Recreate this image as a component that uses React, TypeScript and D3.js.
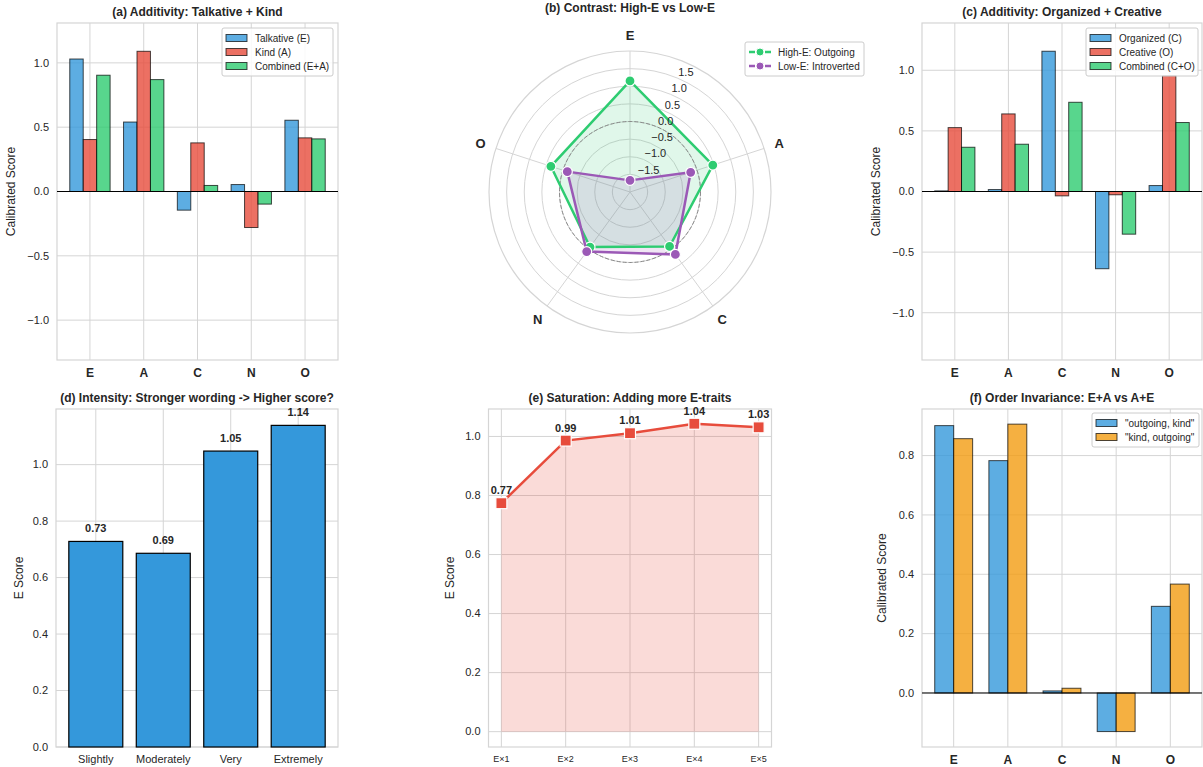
import React, { useEffect, useRef } from 'react';
import * as d3 from 'd3';

const traits = ['E', 'A', 'C', 'N', 'O'];

// (a) additivity E + A
const talkative = [1.03, 0.54, -0.145, 0.054, 0.554];
const kind = [0.404, 1.09, 0.378, -0.28, 0.417];
const combinedEA = [0.904, 0.87, 0.047, -0.098, 0.409];

// (b) contrast radar
const highE = [1.15, 0.47, -0.09, -0.07, 0.36];
const lowE = [-1.67, -0.19, 0.19, 0.09, -0.13];
const radarTicks = [-1.5, -1.0, -0.5, 0.0, 0.5, 1.0, 1.5];

// (c) additivity C + O
const organized = [0.005, 0.016, 1.157, -0.637, 0.049];
const creative = [0.527, 0.64, -0.036, -0.027, 0.956];
const combinedCO = [0.365, 0.39, 0.736, -0.352, 0.569];

// (d) intensity
const intensityLabels = ['Slightly', 'Moderately', 'Very', 'Extremely'];
const intensity = [0.728, 0.686, 1.048, 1.139];

// (e) saturation
const saturationLabels = ['E×1', 'E×2', 'E×3', 'E×4', 'E×5'];
const saturation = [0.774, 0.986, 1.011, 1.043, 1.031];

// (f) order invariance
const outgoingKind = [0.901, 0.783, 0.007, -0.13, 0.292];
const kindOutgoing = [0.857, 0.906, 0.016, -0.13, 0.367];

const BLUE = '#3498db';
const RED = '#e74c3c';
const GREEN = '#2ecc71';
const ORANGE = '#f39c12';
const PURPLE = '#9b59b6';
const GRID = '#d5d5d5';
const TEXT = '#262626';
const FONT = '"Liberation Sans", Arial, sans-serif';

type Sel = d3.Selection<SVGGElement, unknown, null, undefined>;
type Box = { x0: number; x1: number; y0: number; y1: number };

const fmt = (v: number) => d3.format('.1f')(v).replace('-', '−');

const frame = (
  g: Sel,
  box: Box,
  x: d3.ScaleLinear<number, number>,
  y: d3.ScaleLinear<number, number>,
  xTicks: number[],
  yTicks: number[],
  title: string,
  ylabel: string,
  ylabelX: number,
) => {
  g.append('g')
    .selectAll('line')
    .data(xTicks)
    .join('line')
    .attr('x1', (d) => x(d))
    .attr('x2', (d) => x(d))
    .attr('y1', box.y0)
    .attr('y2', box.y1)
    .attr('stroke', GRID);
  g.append('g')
    .selectAll('line')
    .data(yTicks)
    .join('line')
    .attr('x1', box.x0)
    .attr('x2', box.x1)
    .attr('y1', (d) => y(d))
    .attr('y2', (d) => y(d))
    .attr('stroke', GRID);
  g.append('rect')
    .attr('x', box.x0)
    .attr('y', box.y0)
    .attr('width', box.x1 - box.x0)
    .attr('height', box.y1 - box.y0)
    .attr('fill', 'none')
    .attr('stroke', GRID)
    .attr('stroke-width', 1.2);
  g.append('g')
    .selectAll('text')
    .data(yTicks)
    .join('text')
    .attr('x', box.x0 - 8)
    .attr('y', (d) => y(d))
    .attr('dy', '0.35em')
    .attr('text-anchor', 'end')
    .attr('font-size', 11)
    .attr('fill', TEXT)
    .text((d) => fmt(d));
  g.append('text')
    .attr('x', (box.x0 + box.x1) / 2)
    .attr('y', box.y0 - 7)
    .attr('text-anchor', 'middle')
    .attr('font-size', 12)
    .attr('font-weight', 'bold')
    .attr('fill', TEXT)
    .text(title);
  g.append('text')
    .attr('transform', `translate(${ylabelX},${(box.y0 + box.y1) / 2}) rotate(-90)`)
    .attr('text-anchor', 'middle')
    .attr('font-size', 12)
    .attr('fill', TEXT)
    .text(ylabel);
};

const legendBox = (
  g: Sel,
  bx: number,
  by: number,
  w: number,
  items: Array<{ label: string; color: string }>,
  kindOf: 'patch' | 'line',
) => {
  const rowH = 14;
  const lg = g.append('g').attr('transform', `translate(${bx},${by})`);
  lg.append('rect')
    .attr('width', w)
    .attr('height', items.length * rowH + 6)
    .attr('rx', 2)
    .attr('fill', 'white')
    .attr('fill-opacity', 0.85)
    .attr('stroke', '#cccccc');
  items.forEach((it, i) => {
    const cy = 10 + i * rowH;
    if (kindOf === 'patch') {
      lg.append('rect')
        .attr('x', 4)
        .attr('y', cy - 3.5)
        .attr('width', 21)
        .attr('height', 7)
        .attr('fill', it.color)
        .attr('fill-opacity', 0.8)
        .attr('stroke', '#000')
        .attr('stroke-opacity', 0.7);
    } else {
      lg.append('line')
        .attr('x1', 4)
        .attr('x2', 26)
        .attr('y1', cy)
        .attr('y2', cy)
        .attr('stroke', it.color)
        .attr('stroke-width', 2.5)
        .attr('stroke-dasharray', '6,2');
      lg.append('circle')
        .attr('cx', 15)
        .attr('cy', cy)
        .attr('r', 4)
        .attr('fill', it.color)
        .attr('stroke', 'white');
    }
    lg.append('text')
      .attr('x', 33)
      .attr('y', cy)
      .attr('dy', '0.35em')
      .attr('font-size', 10)
      .attr('fill', TEXT)
      .text(it.label);
  });
};

const groupedBars = (
  g: Sel,
  box: Box,
  xDomain: [number, number],
  yDomain: [number, number],
  yTicks: number[],
  series: Array<{ values: number[]; color: string; label: string }>,
  width: number,
  title: string,
  legend: { x: number; y: number; w: number },
  ylabelOffset: number,
) => {
  const x = d3.scaleLinear().domain(xDomain).range([box.x0, box.x1]);
  const y = d3.scaleLinear().domain(yDomain).range([box.y1, box.y0]);
  const idx = d3.range(traits.length);
  frame(g, box, x, y, idx, yTicks, title, 'Calibrated Score', box.x0 - ylabelOffset);
  const n = series.length;
  series.forEach((s, k) => {
    const off = (k - (n - 1) / 2) * width;
    g.append('g')
      .selectAll('rect')
      .data(s.values)
      .join('rect')
      .attr('x', (d, i) => x(i + off - width / 2))
      .attr('width', x(width) - x(0))
      .attr('y', (d) => y(Math.max(0, d)))
      .attr('height', (d) => Math.abs(y(d) - y(0)))
      .attr('fill', s.color)
      .attr('fill-opacity', 0.8)
      .attr('stroke', '#000')
      .attr('stroke-opacity', 0.7)
      .attr('stroke-width', 1);
  });
  g.append('line')
    .attr('x1', box.x0)
    .attr('x2', box.x1)
    .attr('y1', y(0))
    .attr('y2', y(0))
    .attr('stroke', '#000')
    .attr('stroke-width', 1);
  g.append('g')
    .selectAll('text')
    .data(traits)
    .join('text')
    .attr('x', (d, i) => x(i))
    .attr('y', box.y1 + 17)
    .attr('text-anchor', 'middle')
    .attr('font-size', 12)
    .attr('font-weight', 'bold')
    .attr('fill', TEXT)
    .text((d) => d);
  legendBox(
    g,
    legend.x,
    legend.y,
    legend.w,
    series.map((s) => ({ label: s.label, color: s.color })),
    'patch',
  );
};

const drawRadar = (g: Sel) => {
  const cx = 630;
  const cy = 192;
  const R = 141;
  const r = d3.scaleLinear().domain([-2, 2]).range([0, R]);
  const ang = (i: number) => (i * 2 * Math.PI) / traits.length;
  const pt = (i: number, v: number): [number, number] => [
    cx + r(v) * Math.sin(ang(i)),
    cy - r(v) * Math.cos(ang(i)),
  ];

  g.append('g')
    .selectAll('circle')
    .data([-1.5, -1, -0.5, 0, 0.5, 1, 1.5])
    .join('circle')
    .attr('cx', cx)
    .attr('cy', cy)
    .attr('r', (d) => r(d))
    .attr('fill', 'none')
    .attr('stroke', GRID);
  g.append('g')
    .selectAll('line')
    .data(traits)
    .join('line')
    .attr('x1', cx)
    .attr('y1', cy)
    .attr('x2', (d, i) => pt(i, 2)[0])
    .attr('y2', (d, i) => pt(i, 2)[1])
    .attr('stroke', GRID);
  g.append('circle')
    .attr('cx', cx)
    .attr('cy', cy)
    .attr('r', R)
    .attr('fill', 'none')
    .attr('stroke', GRID)
    .attr('stroke-width', 1.2);

  const series = [
    { values: highE, color: GREEN, label: 'High-E: Outgoing' },
    { values: lowE, color: PURPLE, label: 'Low-E: Introverted' },
  ];
  series.forEach((s) => {
    const pts = s.values.map((v, i) => pt(i, v));
    g.append('path')
      .attr('d', d3.line()(pts.concat([pts[0]])))
      .attr('fill', s.color)
      .attr('fill-opacity', 0.15)
      .attr('stroke', 'none');
  });

  // zero reference ring
  g.append('circle')
    .attr('cx', cx)
    .attr('cy', cy)
    .attr('r', r(0))
    .attr('fill', 'none')
    .attr('stroke', '#8a8a8a')
    .attr('stroke-width', 1)
    .attr('stroke-dasharray', '4,2');

  series.forEach((s) => {
    const pts = s.values.map((v, i) => pt(i, v));
    g.append('path')
      .attr('d', d3.line()(pts.concat([pts[0]])))
      .attr('fill', 'none')
      .attr('stroke', s.color)
      .attr('stroke-width', 2.5)
      .attr('stroke-linejoin', 'round');
    g.append('g')
      .selectAll('circle')
      .data(pts)
      .join('circle')
      .attr('cx', (d) => d[0])
      .attr('cy', (d) => d[1])
      .attr('r', 5)
      .attr('fill', s.color)
      .attr('stroke', 'white')
      .attr('stroke-width', 1.2);
  });

  const la = (22.5 * Math.PI) / 180;
  g.append('g')
    .selectAll('text')
    .data(radarTicks)
    .join('text')
    .attr('x', (d) => cx + r(d) * Math.sin(la) + 1)
    .attr('y', (d) => cy - r(d) * Math.cos(la) - 2)
    .attr('font-size', 11)
    .attr('fill', TEXT)
    .text((d) => fmt(d));

  g.append('g')
    .selectAll('text')
    .data(traits)
    .join('text')
    .attr('x', (d, i) => cx + 157 * Math.sin(ang(i)))
    .attr('y', (d, i) => cy - 157 * Math.cos(ang(i)))
    .attr('dy', '0.35em')
    .attr('text-anchor', 'middle')
    .attr('font-size', 13)
    .attr('font-weight', 'bold')
    .attr('fill', TEXT)
    .text((d) => d);

  g.append('text')
    .attr('x', cx)
    .attr('y', 12)
    .attr('text-anchor', 'middle')
    .attr('font-size', 12)
    .attr('font-weight', 'bold')
    .attr('fill', TEXT)
    .text('(b) Contrast: High-E vs Low-E');

  legendBox(g, 745, 42, 119, series, 'line');
};

const drawIntensity = (g: Sel) => {
  const box = { x0: 56, x1: 338, y0: 409, y1: 747 };
  const x = d3.scaleLinear().domain([-0.59, 3.59]).range([box.x0, box.x1]);
  const y = d3.scaleLinear().domain([0, 1.197]).range([box.y1, box.y0]);
  const idx = d3.range(intensity.length);
  frame(g, box, x, y, idx, [0, 0.2, 0.4, 0.6, 0.8, 1.0], '(d) Intensity: Stronger wording -> Higher score?', 'E Score', 23);
  g.append('g')
    .selectAll('rect')
    .data(intensity)
    .join('rect')
    .attr('x', (d, i) => x(i - 0.4))
    .attr('width', x(0.8) - x(0))
    .attr('y', (d) => y(d))
    .attr('height', (d) => y(0) - y(d))
    .attr('fill', BLUE)
    .attr('stroke', '#000')
    .attr('stroke-width', 1.2);
  g.append('g')
    .selectAll('text')
    .data(intensity)
    .join('text')
    .attr('x', (d, i) => x(i))
    .attr('y', (d) => y(d) - 9)
    .attr('text-anchor', 'middle')
    .attr('font-size', 11)
    .attr('font-weight', 'bold')
    .attr('fill', TEXT)
    .text((d) => d.toFixed(2));
  g.append('g')
    .selectAll('text')
    .data(intensityLabels)
    .join('text')
    .attr('x', (d, i) => x(i))
    .attr('y', box.y1 + 16)
    .attr('text-anchor', 'middle')
    .attr('font-size', 11)
    .attr('fill', TEXT)
    .text((d) => d);
};

const drawSaturation = (g: Sel) => {
  const box = { x0: 488.5, x1: 771.5, y0: 409, y1: 747 };
  const x = d3.scaleLinear().domain([-0.2, 4.2]).range([box.x0, box.x1]);
  const y = d3.scaleLinear().domain([-0.052, 1.093]).range([box.y1, box.y0]);
  const idx = d3.range(saturation.length);
  frame(g, box, x, y, idx, [0, 0.2, 0.4, 0.6, 0.8, 1.0], '(e) Saturation: Adding more E-traits', 'E Score', 454);
  const area = d3
    .area<number>()
    .x((d, i) => x(i))
    .y0(y(0))
    .y1((d) => y(d));
  g.append('path').attr('d', area(saturation)).attr('fill', RED).attr('fill-opacity', 0.2);
  const line = d3
    .line<number>()
    .x((d, i) => x(i))
    .y((d) => y(d));
  g.append('path')
    .attr('d', line(saturation))
    .attr('fill', 'none')
    .attr('stroke', RED)
    .attr('stroke-width', 2.5);
  g.append('g')
    .selectAll('rect')
    .data(saturation)
    .join('rect')
    .attr('x', (d, i) => x(i) - 5.5)
    .attr('y', (d) => y(d) - 5.5)
    .attr('width', 11)
    .attr('height', 11)
    .attr('fill', RED)
    .attr('stroke', 'white')
    .attr('stroke-width', 1.2);
  g.append('g')
    .selectAll('text')
    .data(saturation)
    .join('text')
    .attr('x', (d, i) => x(i))
    .attr('y', (d) => y(d) - 9)
    .attr('text-anchor', 'middle')
    .attr('font-size', 11)
    .attr('font-weight', 'bold')
    .attr('fill', TEXT)
    .text((d) => d.toFixed(2));
  g.append('g')
    .selectAll('text')
    .data(saturationLabels)
    .join('text')
    .attr('x', (d, i) => x(i))
    .attr('y', box.y1 + 15)
    .attr('text-anchor', 'middle')
    .attr('font-size', 9)
    .attr('fill', TEXT)
    .text((d) => d);
};

const App: React.FC = () => {
  const ref = useRef<SVGSVGElement>(null);
  useEffect(() => {
    if (!ref.current) return;
    const svg = d3.select(ref.current);
    svg.selectAll('*').remove();
    const root = svg.append('g').attr('font-family', FONT) as unknown as Sel;

    groupedBars(
      root.append('g'),
      { x0: 57, x1: 338, y0: 23, y1: 360 },
      [-0.6125, 4.6125],
      [-1.31, 1.31],
      [-1, -0.5, 0, 0.5, 1],
      [
        { values: talkative, color: BLUE, label: 'Talkative (E)' },
        { values: kind, color: RED, label: 'Kind (A)' },
        { values: combinedEA, color: GREEN, label: 'Combined (E+A)' },
      ],
      0.25,
      '(a) Additivity: Talkative + Kind',
      { x: 222, y: 28, w: 111 },
      42,
    );

    drawRadar(root.append('g'));

    groupedBars(
      root.append('g'),
      { x0: 922, x1: 1202, y0: 23, y1: 360 },
      [-0.6125, 4.6125],
      [-1.39, 1.39],
      [-1, -0.5, 0, 0.5, 1],
      [
        { values: organized, color: BLUE, label: 'Organized (C)' },
        { values: creative, color: RED, label: 'Creative (O)' },
        { values: combinedCO, color: GREEN, label: 'Combined (C+O)' },
      ],
      0.25,
      '(c) Additivity: Organized + Creative',
      { x: 1086, y: 28, w: 112 },
      42,
    );

    drawIntensity(root.append('g'));
    drawSaturation(root.append('g'));

    groupedBars(
      root.append('g'),
      { x0: 922, x1: 1202, y0: 409, y1: 747 },
      [-0.585, 4.585],
      [-0.182, 0.957],
      [0, 0.2, 0.4, 0.6, 0.8],
      [
        { values: outgoingKind, color: BLUE, label: '"outgoing, kind"' },
        { values: kindOutgoing, color: ORANGE, label: '"kind, outgoing"' },
      ],
      0.35,
      '(f) Order Invariance: E+A vs A+E',
      { x: 1092, y: 413, w: 107 },
      36,
    );
  }, []);

  return (
    <svg
      ref={ref}
      width={1203}
      height={767}
      style={{ position: 'absolute', left: 0, top: 0, background: 'white' }}
    />
  );
};

export default App;
